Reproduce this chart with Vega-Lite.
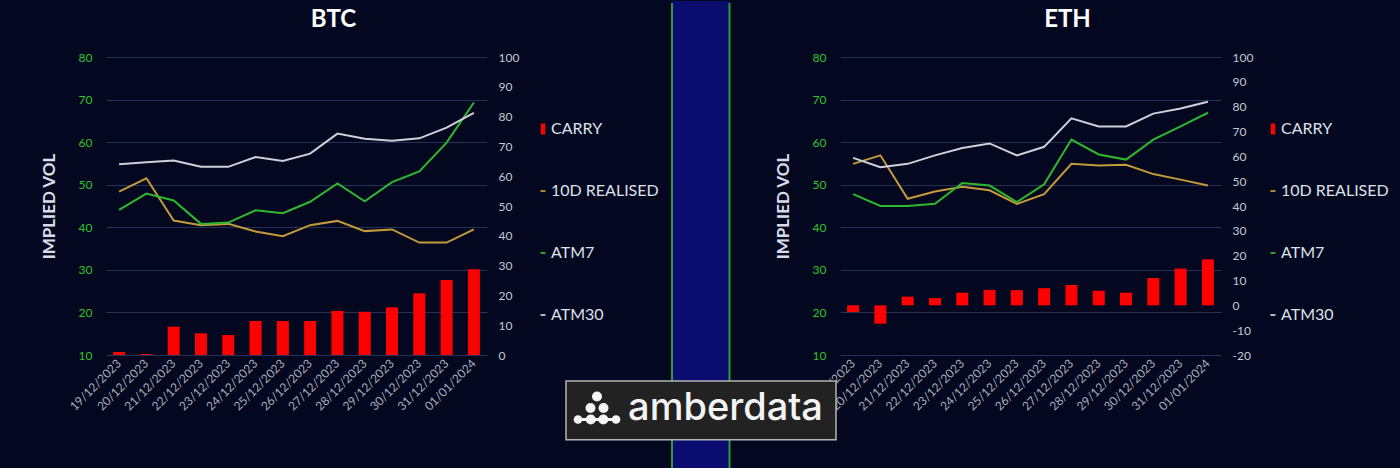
{
  "$schema": "https://vega.github.io/schema/vega-lite/v6.json",
  "background": "#030820",
  "padding": {"left": 40, "top": 0, "right": 22, "bottom": 0},
  "autosize": {"type": "pad"},
  "bounds": "flush",
  "spacing": 353,
  "resolve": {"scale": {"color": "independent"}, "legend": {"color": "independent"}},
  "config": {
    "font": "Lato",
    "view": {"stroke": null},
    "axis": {"domain": false, "ticks": false, "tickSize": 0, "labelFont": "Lato", "titleFont": "Lato"},
    "legend": {"labelFont": "Lato", "titleFontSize": 0, "titlePadding": 0}
  },
  "datasets": {
    "btc_carry": [
      {"date": "2023-12-19", "carry": 1.0},
      {"date": "2023-12-20", "carry": 0.3},
      {"date": "2023-12-21", "carry": 9.5},
      {"date": "2023-12-22", "carry": 7.3},
      {"date": "2023-12-23", "carry": 6.7},
      {"date": "2023-12-24", "carry": 11.4},
      {"date": "2023-12-25", "carry": 11.4},
      {"date": "2023-12-26", "carry": 11.4},
      {"date": "2023-12-27", "carry": 14.8},
      {"date": "2023-12-28", "carry": 14.5},
      {"date": "2023-12-29", "carry": 16.0},
      {"date": "2023-12-30", "carry": 20.7},
      {"date": "2023-12-31", "carry": 25.2},
      {"date": "2024-01-01", "carry": 28.8}
    ],
    "btc_vol": [
      {"date": "2023-12-19", "series": "10D REALISED", "vol": 48.4},
      {"date": "2023-12-20", "series": "10D REALISED", "vol": 51.5},
      {"date": "2023-12-21", "series": "10D REALISED", "vol": 41.6},
      {"date": "2023-12-22", "series": "10D REALISED", "vol": 40.5},
      {"date": "2023-12-23", "series": "10D REALISED", "vol": 40.8},
      {"date": "2023-12-24", "series": "10D REALISED", "vol": 39.0},
      {"date": "2023-12-25", "series": "10D REALISED", "vol": 37.9},
      {"date": "2023-12-26", "series": "10D REALISED", "vol": 40.5},
      {"date": "2023-12-27", "series": "10D REALISED", "vol": 41.5},
      {"date": "2023-12-28", "series": "10D REALISED", "vol": 39.1},
      {"date": "2023-12-29", "series": "10D REALISED", "vol": 39.5},
      {"date": "2023-12-30", "series": "10D REALISED", "vol": 36.4},
      {"date": "2023-12-31", "series": "10D REALISED", "vol": 36.4},
      {"date": "2024-01-01", "series": "10D REALISED", "vol": 39.5},
      {"date": "2023-12-19", "series": "ATM7", "vol": 44.1},
      {"date": "2023-12-20", "series": "ATM7", "vol": 47.9},
      {"date": "2023-12-21", "series": "ATM7", "vol": 46.3},
      {"date": "2023-12-22", "series": "ATM7", "vol": 40.8},
      {"date": "2023-12-23", "series": "ATM7", "vol": 41.1},
      {"date": "2023-12-24", "series": "ATM7", "vol": 44.0},
      {"date": "2023-12-25", "series": "ATM7", "vol": 43.3},
      {"date": "2023-12-26", "series": "ATM7", "vol": 46.0},
      {"date": "2023-12-27", "series": "ATM7", "vol": 50.3},
      {"date": "2023-12-28", "series": "ATM7", "vol": 46.1},
      {"date": "2023-12-29", "series": "ATM7", "vol": 50.6},
      {"date": "2023-12-30", "series": "ATM7", "vol": 53.1},
      {"date": "2023-12-31", "series": "ATM7", "vol": 59.9},
      {"date": "2024-01-01", "series": "ATM7", "vol": 69.3},
      {"date": "2023-12-19", "series": "ATM30", "vol": 54.8},
      {"date": "2023-12-20", "series": "ATM30", "vol": 55.3},
      {"date": "2023-12-21", "series": "ATM30", "vol": 55.7},
      {"date": "2023-12-22", "series": "ATM30", "vol": 54.2},
      {"date": "2023-12-23", "series": "ATM30", "vol": 54.2},
      {"date": "2023-12-24", "series": "ATM30", "vol": 56.5},
      {"date": "2023-12-25", "series": "ATM30", "vol": 55.6},
      {"date": "2023-12-26", "series": "ATM30", "vol": 57.3},
      {"date": "2023-12-27", "series": "ATM30", "vol": 62.0},
      {"date": "2023-12-28", "series": "ATM30", "vol": 60.8},
      {"date": "2023-12-29", "series": "ATM30", "vol": 60.3},
      {"date": "2023-12-30", "series": "ATM30", "vol": 60.9},
      {"date": "2023-12-31", "series": "ATM30", "vol": 63.4},
      {"date": "2024-01-01", "series": "ATM30", "vol": 66.9}
    ],
    "eth_carry": [
      {"date": "2023-12-19", "carry": -2.7},
      {"date": "2023-12-20", "carry": -7.4},
      {"date": "2023-12-21", "carry": 3.5},
      {"date": "2023-12-22", "carry": 2.9},
      {"date": "2023-12-23", "carry": 5.1},
      {"date": "2023-12-24", "carry": 6.2},
      {"date": "2023-12-25", "carry": 6.1},
      {"date": "2023-12-26", "carry": 6.9},
      {"date": "2023-12-27", "carry": 8.2},
      {"date": "2023-12-28", "carry": 5.9},
      {"date": "2023-12-29", "carry": 5.1},
      {"date": "2023-12-30", "carry": 11.0},
      {"date": "2023-12-31", "carry": 14.8},
      {"date": "2024-01-01", "carry": 18.5}
    ],
    "eth_vol": [
      {"date": "2023-12-19", "series": "10D REALISED", "vol": 54.9},
      {"date": "2023-12-20", "series": "10D REALISED", "vol": 56.9},
      {"date": "2023-12-21", "series": "10D REALISED", "vol": 46.7},
      {"date": "2023-12-22", "series": "10D REALISED", "vol": 48.4},
      {"date": "2023-12-23", "series": "10D REALISED", "vol": 49.5},
      {"date": "2023-12-24", "series": "10D REALISED", "vol": 48.7},
      {"date": "2023-12-25", "series": "10D REALISED", "vol": 45.5},
      {"date": "2023-12-26", "series": "10D REALISED", "vol": 47.8},
      {"date": "2023-12-27", "series": "10D REALISED", "vol": 54.9},
      {"date": "2023-12-28", "series": "10D REALISED", "vol": 54.5},
      {"date": "2023-12-29", "series": "10D REALISED", "vol": 54.7},
      {"date": "2023-12-30", "series": "10D REALISED", "vol": 52.5},
      {"date": "2023-12-31", "series": "10D REALISED", "vol": 51.2},
      {"date": "2024-01-01", "series": "10D REALISED", "vol": 49.8},
      {"date": "2023-12-19", "series": "ATM7", "vol": 47.8},
      {"date": "2023-12-20", "series": "ATM7", "vol": 45.0},
      {"date": "2023-12-21", "series": "ATM7", "vol": 45.0},
      {"date": "2023-12-22", "series": "ATM7", "vol": 45.5},
      {"date": "2023-12-23", "series": "ATM7", "vol": 50.4},
      {"date": "2023-12-24", "series": "ATM7", "vol": 49.8},
      {"date": "2023-12-25", "series": "ATM7", "vol": 45.9},
      {"date": "2023-12-26", "series": "ATM7", "vol": 50.1},
      {"date": "2023-12-27", "series": "ATM7", "vol": 60.6},
      {"date": "2023-12-28", "series": "ATM7", "vol": 57.1},
      {"date": "2023-12-29", "series": "ATM7", "vol": 55.9},
      {"date": "2023-12-30", "series": "ATM7", "vol": 60.6},
      {"date": "2023-12-31", "series": "ATM7", "vol": 63.7},
      {"date": "2024-01-01", "series": "ATM7", "vol": 66.9},
      {"date": "2023-12-19", "series": "ATM30", "vol": 56.3},
      {"date": "2023-12-20", "series": "ATM30", "vol": 54.1},
      {"date": "2023-12-21", "series": "ATM30", "vol": 54.9},
      {"date": "2023-12-22", "series": "ATM30", "vol": 56.9},
      {"date": "2023-12-23", "series": "ATM30", "vol": 58.6},
      {"date": "2023-12-24", "series": "ATM30", "vol": 59.7},
      {"date": "2023-12-25", "series": "ATM30", "vol": 56.9},
      {"date": "2023-12-26", "series": "ATM30", "vol": 58.9},
      {"date": "2023-12-27", "series": "ATM30", "vol": 65.6},
      {"date": "2023-12-28", "series": "ATM30", "vol": 63.7},
      {"date": "2023-12-29", "series": "ATM30", "vol": 63.7},
      {"date": "2023-12-30", "series": "ATM30", "vol": 66.7},
      {"date": "2023-12-31", "series": "ATM30", "vol": 67.9},
      {"date": "2024-01-01", "series": "ATM30", "vol": 69.5}
    ]
  },
  "hconcat": [
    {
      "width": 381,
      "height": 298,
      "title": {"text": "BTC", "fontSize": 24, "font": "Lato", "fontWeight": "bold", "color": "#ffffff", "anchor": "middle", "frame": "group", "dx": 37, "offset": 0, "baseline": "alphabetic"},
      "encoding": {
        "x": {
          "field": "date", "type": "ordinal", "sort": null,
          "scale": {"paddingInner": 0.56, "paddingOuter": 0.26},
          "axis": {"title": null, "labelAngle": -45, "labelAlign": "right", "labelBaseline": "middle", "labelPadding": 6, "labelFontSize": 12, "labelColor": "#a9adba", "grid": false,
            "labelExpr": "slice(datum.value, 8, 10) + '/' + slice(datum.value, 5, 7) + '/' + slice(datum.value, 0, 4)"}
        }
      },
      "layer": [
        {
          "data": {"name": "btc_carry"},
          "mark": {"type": "bar", "color": "#ff0000"},
          "encoding": {
            "y": {"field": "carry", "type": "quantitative", "scale": {"domain": [0, 100], "nice": false},
              "axis": {"orient": "right", "title": null, "grid": false, "labelColor": "#c4c8d4", "labelFontSize": 12, "labelPadding": 11, "values": [0, 10, 20, 30, 40, 50, 60, 70, 80, 90, 100]}},
            "color": {"datum": "CARRY", "type": "nominal",
              "scale": {"domain": ["CARRY", "10D REALISED", "ATM7", "ATM30"], "range": ["#ff0000", "#c49a3a", "#2eb82e", "#cfd0dc"]},
              "legend": {"orient": "none", "legendX": 429, "legendY": 64, "title": null, "padding": 0, "labelColor": "#dde0ea", "labelFontSize": 16, "labelOffset": 0, "rowPadding": 46, "symbolSize": 121,
                "encode": {"symbols": {"update": {
                  "shape": {"signal": "datum.value == 'CARRY' ? 'M-0.4,-1H0.4V1H-0.4Z' : 'M-0.45,-0.16H0.45V0.16H-0.45Z'"},
                  "fill": {"signal": "datum.value == 'CARRY' ? '#ff0000' : datum.value == 'ATM7' ? '#2eb82e' : datum.value == 'ATM30' ? '#cfd0dc' : '#c49a3a'"},
                  "fillOpacity": {"value": 1}, "opacity": {"value": 1}, "strokeWidth": {"value": 0}, "stroke": {"value": "transparent"}}}}}
            }
          }
        },
        {
          "data": {"name": "btc_vol"},
          "mark": {"type": "line", "strokeWidth": 2},
          "encoding": {
            "y": {"field": "vol", "type": "quantitative", "scale": {"domain": [10, 80], "nice": false, "zero": false},
              "axis": {"orient": "left", "title": "IMPLIED VOL", "titleColor": "#d8dce6", "titleFontSize": 17, "titleFontWeight": "bold", "titlePadding": 20,
                "labelColor": "#2ec42e", "labelFontSize": 12, "labelPadding": 14, "values": [10, 20, 30, 40, 50, 60, 70, 80], "grid": true, "gridColor": "#243258", "gridWidth": 1.2}},
            "color": {"field": "series", "type": "nominal",
              "legend": {"orient": "none", "legendX": 429, "legendY": 64, "title": null, "padding": 0, "labelColor": "#dde0ea", "labelFontSize": 16, "labelOffset": 0, "rowPadding": 46, "symbolSize": 121}}
          }
        }
      ],
      "resolve": {"scale": {"y": "independent"}}
    },
    {
      "width": 381,
      "height": 298,
      "title": {"text": "ETH", "fontSize": 24, "font": "Lato", "fontWeight": "bold", "color": "#ffffff", "anchor": "middle", "frame": "group", "dx": 37, "dy": 50, "offset": 0, "baseline": "alphabetic"},
      "layer": [
        {
          "encoding": {
            "x": {
              "field": "date", "type": "ordinal", "sort": null,
              "scale": {"paddingInner": 0.56, "paddingOuter": 0.26},
              "axis": {"title": null, "labelAngle": -45, "labelAlign": "right", "labelBaseline": "middle", "labelPadding": 6, "labelFontSize": 12, "labelColor": "#a9adba", "grid": false,
                "labelExpr": "slice(datum.value, 8, 10) + '/' + slice(datum.value, 5, 7) + '/' + slice(datum.value, 0, 4)"}
            }
          },
          "layer": [
            {
              "data": {"name": "eth_carry"},
              "mark": {"type": "bar", "color": "#ff0000"},
              "encoding": {
                "y": {"field": "carry", "type": "quantitative", "scale": {"domain": [-20, 100], "nice": false},
                  "axis": {"orient": "right", "title": null, "grid": false, "labelColor": "#c4c8d4", "labelFontSize": 12, "labelPadding": 11, "values": [-20, -10, 0, 10, 20, 30, 40, 50, 60, 70, 80, 90, 100],
                    "labelExpr": "datum.value < 0 ? '-' + abs(datum.value) : datum.label"}},
                "color": {"datum": "CARRY", "type": "nominal",
                  "scale": {"domain": ["CARRY", "10D REALISED", "ATM7", "ATM30"], "range": ["#ff0000", "#c49a3a", "#2eb82e", "#cfd0dc"]},
                  "legend": {"orient": "none", "legendX": 425, "legendY": 64, "title": null, "padding": 0, "labelColor": "#dde0ea", "labelFontSize": 16, "labelOffset": 0, "rowPadding": 46, "symbolSize": 121,
                    "encode": {"symbols": {"update": {
                      "shape": {"signal": "datum.value == 'CARRY' ? 'M-0.4,-1H0.4V1H-0.4Z' : 'M-0.45,-0.16H0.45V0.16H-0.45Z'"},
                      "fill": {"signal": "datum.value == 'CARRY' ? '#ff0000' : datum.value == 'ATM7' ? '#2eb82e' : datum.value == 'ATM30' ? '#cfd0dc' : '#c49a3a'"},
                      "fillOpacity": {"value": 1}, "opacity": {"value": 1}, "strokeWidth": {"value": 0}, "stroke": {"value": "transparent"}}}}}
                }
              }
            },
            {
              "data": {"name": "eth_vol"},
              "mark": {"type": "line", "strokeWidth": 2},
              "encoding": {
                "y": {"field": "vol", "type": "quantitative", "scale": {"domain": [10, 80], "nice": false, "zero": false},
                  "axis": {"orient": "left", "title": "IMPLIED VOL", "titleColor": "#d8dce6", "titleFontSize": 17, "titleFontWeight": "bold", "titlePadding": 20,
                    "labelColor": "#2ec42e", "labelFontSize": 12, "labelPadding": 14, "values": [10, 20, 30, 40, 50, 60, 70, 80], "grid": true, "gridColor": "#243258", "gridWidth": 1.2}},
                "color": {"field": "series", "type": "nominal",
                  "legend": {"orient": "none", "legendX": 425, "legendY": 64, "title": null, "padding": 0, "labelColor": "#dde0ea", "labelFontSize": 16, "labelOffset": 0, "rowPadding": 46, "symbolSize": 121}}
              }
            }
          ],
          "resolve": {"scale": {"y": "independent"}}
        },
        {
          "layer": [
            {
              "data": {"values": [{"x0": -0.44094, "x1": -0.29003, "y0": -0.38255, "y1": 1.18792}]},
              "mark": {"type": "rect", "color": "#0a0c70"},
              "encoding": {
                "x": {"field": "x0", "type": "quantitative", "scale": {"domain": [0, 1], "nice": false, "zero": false}, "axis": null},
                "x2": {"field": "x1"},
                "y": {"field": "y0", "type": "quantitative", "scale": {"domain": [0, 1], "nice": false, "zero": false}, "axis": null},
                "y2": {"field": "y1"}
              }
            },
            {
              "data": {"values": [{"x": -0.44094, "y0": -0.38255, "y1": 1.18121}, {"x": -0.29003, "y0": -0.38255, "y1": 1.18121}]},
              "mark": {"type": "rule", "color": "#2f9a3a", "strokeWidth": 2},
              "encoding": {
                "x": {"field": "x", "type": "quantitative", "axis": null},
                "y": {"field": "y0", "type": "quantitative", "axis": null},
                "y2": {"field": "y1"}
              }
            },
            {
              "data": {"values": [{"x0": -0.71916, "x1": -0.0105, "y0": -0.28423, "y1": -0.08725}]},
              "mark": {"type": "rect", "fill": "#222222", "stroke": "#b4b4b4", "strokeWidth": 1.5},
              "encoding": {
                "x": {"field": "x0", "type": "quantitative", "axis": null},
                "x2": {"field": "x1"},
                "y": {"field": "y0", "type": "quantitative", "axis": null},
                "y2": {"field": "y1"}
              }
            },
            {
              "data": {"values": [{"x0": -0.68766, "x1": -0.58793, "y": -0.21644}]},
              "mark": {"type": "rule", "color": "#f4f4f4", "strokeWidth": 3},
              "encoding": {
                "x": {"field": "x0", "type": "quantitative", "axis": null},
                "x2": {"field": "x1"},
                "y": {"field": "y", "type": "quantitative", "axis": null}
              }
            },
            {
              "data": {"values": [
                {"x": -0.63780, "y": -0.13926, "s": 100},
                {"x": -0.65486, "y": -0.17785, "s": 100},
                {"x": -0.62073, "y": -0.17785, "s": 100},
                {"x": -0.68766, "y": -0.21644, "s": 75},
                {"x": -0.65407, "y": -0.21644, "s": 100},
                {"x": -0.62126, "y": -0.21644, "s": 100},
                {"x": -0.58793, "y": -0.21644, "s": 75}
              ]},
              "mark": {"type": "circle", "color": "#f4f4f4", "opacity": 1},
              "encoding": {
                "x": {"field": "x", "type": "quantitative", "axis": null},
                "y": {"field": "y", "type": "quantitative", "axis": null},
                "size": {"field": "s", "type": "quantitative", "scale": null, "legend": null}
              }
            },
            {
              "data": {"values": [{"x": -0.30052, "y": -0.18121, "label": "amberdata"}]},
              "mark": {"type": "text", "font": "Inter", "fontSize": 38, "fontWeight": 500, "color": "#f4f4f4", "align": "center", "baseline": "middle"},
              "encoding": {
                "x": {"field": "x", "type": "quantitative", "axis": null},
                "y": {"field": "y", "type": "quantitative", "axis": null},
                "text": {"field": "label"}
              }
            }
          ]
        }
      ],
      "resolve": {"scale": {"x": "independent", "y": "independent"}}
    }
  ]
}
